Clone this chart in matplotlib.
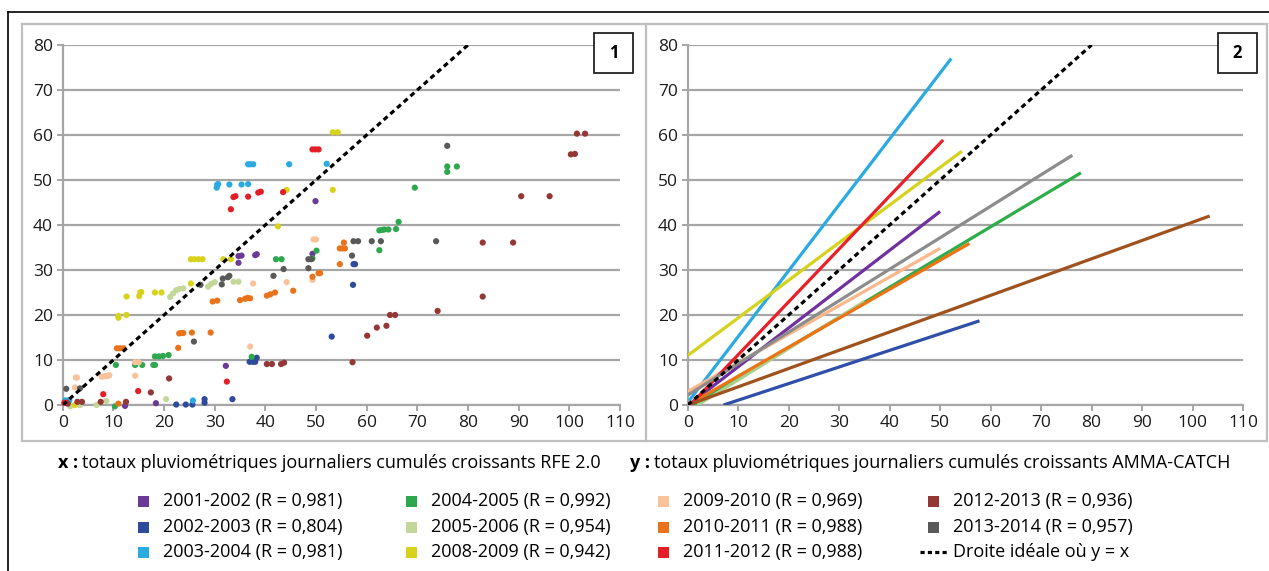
import matplotlib
matplotlib.use("Agg")
import matplotlib.pyplot as plt
from matplotlib.patches import Rectangle
from matplotlib.lines import Line2D

# ---------------- data ----------------
labels = ["2001-2002 (R = 0,981)", "2002-2003 (R = 0,804)", "2003-2004 (R = 0,981)",
          "2004-2005 (R = 0,992)", "2005-2006 (R = 0,954)", "2008-2009 (R = 0,942)",
          "2009-2010 (R = 0,969)", "2010-2011 (R = 0,988)", "2011-2012 (R = 0,988)",
          "2012-2013 (R = 0,936)", "2013-2014 (R = 0,957)"]
ideal_label = "Droite idéale où y = x"

x_0102 = [12.3, 18.4, 32.2, 34.7, 34.7, 35.3, 38.0, 38.3, 49.3, 49.9]
y_0102 = [-0.2, 0.4, 8.7, 31.6, 33.1, 33.2, 33.3, 33.5, 33.6, 45.3]
x_0203 = [0.6, 22.4, 24.3, 25.6, 28.0, 28.0, 33.5, 36.9, 37.5, 38.0, 38.3, 53.1, 57.3, 57.4, 57.7]
y_0203 = [0.5, 0.1, 0.1, 0.1, 0.5, 1.3, 1.3, 9.6, 9.6, 9.6, 10.5, 15.2, 26.7, 31.3, 31.3]
x_0304 = [0.5, 1.0, 1.3, 25.7, 30.4, 30.5, 30.7, 32.9, 35.3, 36.6, 36.6, 37.0, 37.6, 44.7, 52.1]
y_0304 = [1.0, 1.0, 1.0, 1.0, 48.3, 49.0, 49.1, 49.0, 49.0, 49.1, 53.5, 53.5, 53.5, 53.5, 53.6]
x_0405 = [10.3, 10.5, 14.3, 15.7, 17.9, 18.2, 18.2, 19.0, 19.8, 20.9, 37.3, 42.1, 43.2, 49.3, 50.1,
          62.5, 62.5, 63.0, 63.5, 64.3, 65.8, 66.3, 69.5, 75.9, 75.9, 77.8]
y_0405 = [-0.3, 8.9, 8.9, 8.9, 8.9, 8.9, 10.8, 10.8, 10.9, 11.1, 10.7, 32.4, 32.4, 32.6, 34.3,
          34.4, 38.8, 38.9, 39.0, 39.0, 39.1, 40.7, 48.3, 51.8, 53.0, 53.0]
x_0506 = [1.5, 3.4, 6.7, 8.6, 20.4, 21.2, 21.8, 22.4, 23.0, 23.8, 28.7, 29.3, 30.0, 33.7, 34.7]
y_0506 = [-0.3, 0.0, 0.0, 0.9, 1.3, 24.0, 24.8, 25.5, 25.8, 25.9, 26.3, 26.9, 27.3, 27.4, 27.4]
x_0809 = [2.4, 11.0, 11.0, 12.6, 12.6, 15.1, 15.3, 15.5, 18.2, 19.5, 25.3, 25.3, 26.0, 26.8, 27.6,
          31.7, 33.2, 42.5, 44.2, 53.3, 53.3, 54.3]
y_0809 = [0.0, 19.8, 19.4, 20.0, 24.1, 24.2, 25.0, 25.1, 25.0, 25.0, 27.0, 32.4, 32.4, 32.4, 32.4,
          32.4, 32.4, 39.7, 47.8, 47.8, 60.6, 60.6]
x_0910 = [2.4, 2.6, 2.8, 7.7, 8.2, 8.7, 9.2, 14.3, 14.3, 15.0, 37.0, 37.6, 44.2, 49.3, 49.5, 50.0]
y_0910 = [3.9, 6.1, 6.1, 6.3, 6.4, 6.4, 6.6, 6.5, 9.5, 9.5, 13.0, 27.0, 27.3, 27.8, 36.8, 36.8]
x_1011 = [11.0, 10.7, 11.3, 12.0, 22.8, 23.0, 23.4, 23.8, 25.5, 29.2, 29.6, 30.5, 35.0, 36.0, 36.5,
          37.0, 40.3, 41.0, 41.9, 45.5, 49.3, 50.5, 50.8, 54.7, 54.7, 55.2, 55.7, 55.5]
y_1011 = [0.3, 12.6, 12.6, 12.6, 12.7, 15.9, 16.0, 16.0, 16.1, 16.1, 23.0, 23.2, 23.3, 23.6, 23.8,
          23.7, 24.3, 24.6, 25.0, 25.4, 28.5, 29.3, 29.3, 31.3, 34.8, 34.8, 34.8, 36.1]
x_1112 = [0.3, 0.8, 8.0, 14.9, 32.4, 33.2, 33.7, 34.1, 36.6, 38.6, 39.1, 43.5, 49.3, 49.9, 50.5]
y_1112 = [0.5, 0.5, 2.4, 3.1, 5.2, 43.5, 46.2, 46.4, 46.3, 47.2, 47.4, 47.3, 56.8, 56.8, 56.8]
x_1213 = [1.0, 2.9, 3.8, 7.5, 12.5, 17.4, 21.0, 40.3, 41.3, 43.1, 43.7, 57.2, 60.1, 62.0, 63.9,
          64.6, 65.6, 74.0, 82.9, 82.9, 88.9, 90.5, 96.1, 100.3, 101.1, 101.5, 103.1]
y_1213 = [0.3, 0.7, 0.7, 0.7, 0.7, 2.8, 5.9, 9.1, 9.1, 9.1, 9.4, 9.5, 15.4, 17.2, 17.6,
          20.0, 20.0, 20.9, 24.1, 36.1, 36.1, 46.4, 46.4, 55.7, 55.8, 60.3, 60.3]
x_1314 = [0.7, 3.4, 25.9, 27.2, 31.4, 31.6, 32.6, 32.9, 41.6, 43.6, 48.5, 48.5, 49.1, 57.1, 57.4,
          58.3, 61.0, 62.8, 73.7, 75.9]
y_1314 = [3.6, 3.7, 14.1, 26.7, 26.8, 28.1, 28.4, 28.7, 28.7, 30.2, 30.4, 32.4, 32.4, 33.2, 36.4,
          36.4, 36.4, 36.4, 36.4, 57.6]

scatter_x = [x_0102, x_0203, x_0304, x_0405, x_0506, x_0809, x_0910, x_1011, x_1112, x_1213, x_1314]
scatter_y = [y_0102, y_0203, y_0304, y_0405, y_0506, y_0809, y_0910, y_1011, y_1112, y_1213, y_1314]

# regression lines (panel 2): start / end points
line_x0 = [0.5, 7.1, 0.3, 1.0, 2.0, 0.0, 0.0, 0.5, 0.5, 0.8, 0.0]
line_y0 = [0.3, 0.0, 1.0, 0.0, 0.0, 11.0, 3.0, 0.3, 0.0, 0.3, 2.2]
line_x1 = [50.0, 57.8, 52.2, 77.9, 35.0, 54.3, 50.0, 55.8, 50.6, 103.4, 76.2]
line_y1 = [43.0, 18.7, 77.0, 51.6, 23.0, 56.4, 34.8, 35.9, 58.9, 42.0, 55.5]

ideal_x = [0, 80]
ideal_y = [0, 80]

x_ticks = [0, 10, 20, 30, 40, 50, 60, 70, 80, 90, 100, 110]
y_ticks = [0, 10, 20, 30, 40, 50, 60, 70, 80]

x_title = "totaux pluviométriques journaliers cumulés croissants RFE 2.0"
y_title = "totaux pluviométriques journaliers cumulés croissants AMMA-CATCH"

# ---------------- style ----------------
point_colors = ["#6B3A96", "#2E4B9B", "#29ABE2", "#2EA84F", "#C4D79B", "#D9D21C",
                "#F9C29A", "#E8731B", "#E41E26", "#953735", "#595959"]
line_colors = ["#7030A0", "#2F4FA8", "#29ABE2", "#2EAD4B", "#A9D18E", "#D4D21A",
               "#F8B88B", "#EE7314", "#E8202A", "#A0521E", "#8C8C8C"]
GRID = "#A6A6A6"
FONT = "Open Sans"
TXT = 13

W, H = 1269, 571
fig = plt.figure(figsize=(W / 100, H / 100), dpi=100)


def fx(px):
    return px / W


def fy(py):
    return 1 - py / H


def style(ax):
    ax.set_xlim(x_ticks[0], x_ticks[-1])
    ax.set_ylim(y_ticks[0], y_ticks[-1])
    ax.set_xticks(x_ticks)
    ax.set_yticks(y_ticks)
    for s in ["top", "right"]:
        ax.spines[s].set_visible(False)
    for s in ["left", "bottom"]:
        ax.spines[s].set_color(GRID)
        ax.spines[s].set_linewidth(1.6)
    ax.yaxis.grid(True, color=GRID, linewidth=1.6)
    ax.set_axisbelow(True)
    ax.tick_params(axis="both", colors=GRID, width=1.4, length=4, direction="out",
                   labelcolor="#1A1A1A", labelsize=12.5)
    for lab in ax.get_xticklabels() + ax.get_yticklabels():
        lab.set_family(FONT)
    ax.tick_params(axis="x", pad=3)
    ax.tick_params(axis="y", pad=3)
    ax.patch.set_alpha(0)


ax1 = fig.add_axes([fx(62.7), fy(405), (620 - 62.7) / W, 360 / H])
ax2 = fig.add_axes([fx(687.7), fy(405), (1243 - 687.7) / W, 360 / H])
style(ax1)
style(ax2)

for xs, ys, c in zip(scatter_x, scatter_y, point_colors):
    ax1.scatter(xs, ys, s=20, color=c, edgecolors="none", zorder=3, clip_on=False)
ax1.plot(ideal_x, ideal_y, color="black", lw=2.3, linestyle=(0, (1.6, 1.2)), zorder=4)

for x0, y0, x1, y1, c in zip(line_x0, line_y0, line_x1, line_y1, line_colors):
    ax2.plot([x0, x1], [y0, y1], color=c, lw=2.3, solid_capstyle="butt", zorder=3)
ax2.plot(ideal_x, ideal_y, color="black", lw=2.3, linestyle=(0, (1.6, 1.2)), zorder=4)

# frames
fig.add_artist(Rectangle((fx(22), fy(441)), (1267 - 22) / W, (441 - 24) / H,
                         transform=fig.transFigure, fill=False, edgecolor="#BFBFBF", lw=1.6))
fig.add_artist(Line2D([fx(646), fx(646)], [fy(24), fy(441)], transform=fig.transFigure,
                      color="#BFBFBF", lw=1.6))
fig.add_artist(Line2D([fx(8), 1.0], [fy(12), fy(12)], transform=fig.transFigure,
                      color="black", lw=1.2))
fig.add_artist(Line2D([fx(8), fx(8)], [fy(12), 0.0], transform=fig.transFigure,
                      color="black", lw=1.2))

# panel number boxes
for num, left in [("1", 594), ("2", 1218)]:
    fig.add_artist(Rectangle((fx(left), fy(73)), 39 / W, 40 / H, transform=fig.transFigure,
                             facecolor="white", edgecolor="#222222", lw=1.3, zorder=10))
    fig.text(fx(left + 19.5), fy(53), num, ha="center", va="center", fontsize=12,
             fontweight="bold", family=FONT, zorder=11)

# axis titles
fig.canvas.draw()
renderer = fig.canvas.get_renderer()
for letter, title, px in [("x", x_title, 58), ("y", y_title, 630)]:
    t = fig.text(fx(px), fy(463), letter + " :", ha="left", va="center", fontsize=TXT,
                 fontweight="bold", family=FONT)
    bb = t.get_window_extent(renderer)
    fig.text(bb.x1 / W + 4 / W, fy(463), title, ha="left", va="center", fontsize=TXT,
             family=FONT)

# legend
col_px = [138, 406, 658, 928]
row_py = [501, 527, 552]
for i, lab in enumerate(labels):
    c, r = divmod(i, 3)
    fig.add_artist(Rectangle((fx(col_px[c]), fy(row_py[r] + 5.5)), 11 / W, 11 / H,
                             transform=fig.transFigure, facecolor=point_colors[i],
                             edgecolor="none"))
    fig.text(fx(col_px[c] + 25), fy(row_py[r]), lab, ha="left", va="center",
             fontsize=TXT, family=FONT)
fig.add_artist(Line2D([fx(col_px[3] - 8), fx(col_px[3] + 19)], [fy(row_py[2])] * 2,
                      transform=fig.transFigure, color="black", lw=2.3,
                      linestyle=(0, (1.3, 1.0))))
fig.text(fx(col_px[3] + 25), fy(row_py[2]), ideal_label, ha="left", va="center",
         fontsize=TXT, family=FONT)

fig.savefig("out.png", dpi=100)
